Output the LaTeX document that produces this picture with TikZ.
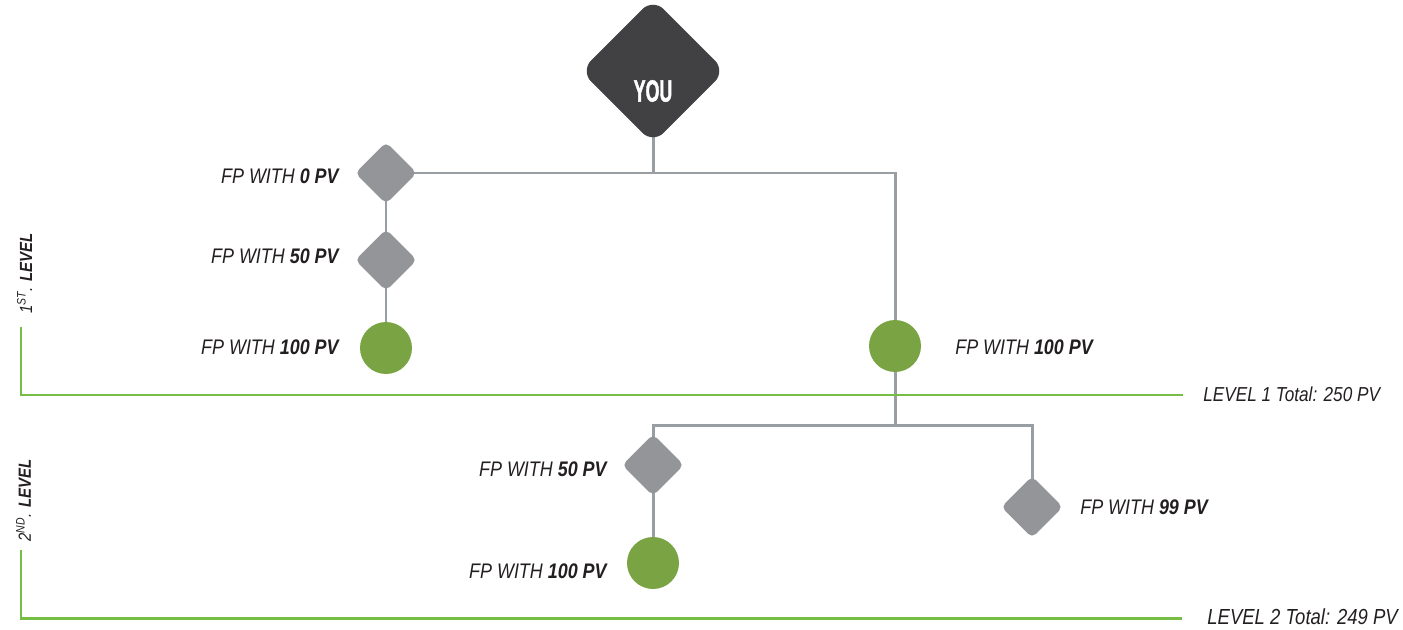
\documentclass[tikz,border=0pt]{standalone}
\usepackage{fontspec}
\setmainfont{Liberation Sans}[FakeStretch=0.85]
\newfontfamily\youfont{Liberation Sans}[FakeStretch=0.58,FakeBold=1.2]
\usetikzlibrary{backgrounds}
\definecolor{youdark}{RGB}{65,64,66}
\definecolor{fpgrey}{RGB}{147,149,152}
\definecolor{fpgreen}{RGB}{122,164,68}
\definecolor{lvlgreen}{RGB}{118,190,67}
\definecolor{linegrey}{RGB}{153,158,163}
\definecolor{txt}{RGB}{35,31,32}
\newcommand{\fp}[1]{FP WITH \textbf{#1 PV}}

\begin{document}
\begin{tikzpicture}[x=0.02cm,y=-0.02cm,
		fpbox/.style={fill=fpgrey,rotate=45,rounded corners=3pt,minimum size=0.87cm,inner sep=0pt},
		fpdot/.style={circle,fill=fpgreen,minimum size=1.04cm,inner sep=0pt},
		fplab/.style={text=txt,inner sep=0pt,font=\fontsize{12}{14}\selectfont\itshape},
		lvllab/.style={text=txt,inner sep=0pt,font=\fontsize{11.5}{14}\selectfont\itshape},
		tree/.style={draw=linegrey,line width=1.7pt},
		lvl/.style={draw=lvlgreen,line width=1.7pt}]
		\useasboundingbox (0,0) rectangle (1403,629);
		\node[fill=youdark,rotate=45,rounded corners=0.3cm,minimum size=2.05cm,inner sep=0pt] (you) at (653,71) {};
		\node[text=white,font=\youfont\bfseries\fontsize{17.5}{20}\selectfont] (youtxt) at (653,91) {YOU};
		% first level
		\node[fpbox] (fp0) at (386,173) {};
		\node[fpbox] (fp50) at (386,260) {};
		\node[fpdot] (fp100) at (386,348) {};
		\node[fpdot] (fp100r) at (895,346) {};
		\node[fplab,anchor=east] (fp0lab) at (339,176) {\fp{0}};
		\node[fplab,anchor=east] (fp50lab) at (339,256) {\fp{50}};
		\node[fplab,anchor=east] (fp100lab) at (339,347) {\fp{100}};
		\node[fplab,anchor=west] (fp100rlab) at (955,347) {\fp{100}};
		% second level
		\node[fpbox] (fp50b) at (653,465) {};
		\node[fpdot] (fp100b) at (653,563) {};
		\node[fpbox] (fp99) at (1032,507) {};
		\node[fplab,anchor=east] (fp50blab) at (607,469) {\fp{50}};
		\node[fplab,anchor=east] (fp100blab) at (607,571) {\fp{100}};
		\node[fplab,anchor=west] (fp99lab) at (1080,507) {\fp{99}};
		\coordinate (split) at (895,425);
		\begin{scope}[on background layer]
			\draw[tree] (you.center) -- (you.center |- fp0.center);
			\draw[tree] (fp0.center) -| (fp100r.center);
			\draw[tree] (fp0.center) -- (fp100.center);
			\draw[tree] (fp100r.center) -- (split);
			\draw[tree] (fp50b.center) |- (split) -| (fp99.center);
			\draw[tree] (fp50b.center) -- (fp100b.center);
		\end{scope}
		% level markers
		\coordinate (lvl1top) at (21,327);
		\coordinate (lvl1end) at (1183,395);
		\coordinate (lvl2top) at (21,550);
		\coordinate (lvl2end) at (1182,618);
		\draw[lvl] (lvl1top) |- (lvl1end);
		\draw[lvl] (lvl2top) |- (lvl2end);
		\node[lvllab,anchor=west] (lvl1sum) at (1203,394) {LEVEL 1 Total: 250 PV};
		\node[lvllab,anchor=west,font=\fontsize{12.4}{14}\selectfont\itshape] (lvl2sum) at (1207,617) {LEVEL 2 Total: 249 PV};
		\node[text=txt,rotate=90,anchor=base west,font=\fontsize{10}{12}\selectfont\itshape] (lvl1txt) at (32,320) {1\textsuperscript{ST}. \textbf{LEVEL}};
		\node[text=txt,rotate=90,anchor=base west,font=\fontsize{10}{12}\selectfont\itshape] (lvl2txt) at (31,548) {2\textsuperscript{ND}. \textbf{LEVEL}};
	\end{tikzpicture}
\end{document}
